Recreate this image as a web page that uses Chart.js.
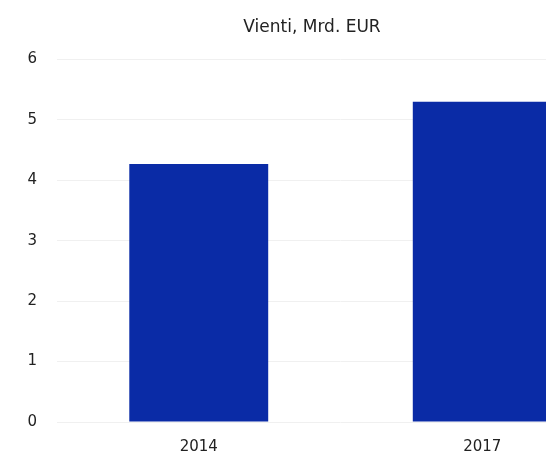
<!DOCTYPE html>
<html>
<head>
<meta charset="utf-8">
<script src="https://cdn.jsdelivr.net/npm/chart.js@4/dist/chart.umd.min.js"></script>
<style>
    html, body { margin: 0; padding: 0; background: #fff; overflow: hidden; }
    #wrap { width: 624px; height: 459px; }
</style>
</head>
<body>
<div id="wrap"><canvas id="exportChart"></canvas></div>
<script>
const years = ["2014", "2017"];
const exports = [4.27, 5.3];
const chartTitle = "Vienti, Mrd. EUR";

const ctx = document.getElementById("exportChart").getContext("2d");

const exportChart = new Chart(ctx, {
    type: "bar",
    data: {
        labels: years,
        datasets: [{
            label: chartTitle,
            data: exports,
            backgroundColor: "#0a2ba6",
            borderWidth: 0,
            categoryPercentage: 1,
            barPercentage: 0.49
        }]
    },
    options: {
        responsive: true,
        maintainAspectRatio: false,
        animation: false,
        layout: { padding: { top: 17, right: 0, bottom: 4, left: 0 } },
        plugins: {
            legend: { display: false },
            tooltip: { enabled: false },
            title: {
                display: true,
                text: chartTitle,
                color: "#222",
                font: { family: "DejaVu Sans", size: 17, weight: "normal" },
                padding: { top: 0, bottom: 22 }
            }
        },
        scales: {
            x: {
                afterFit: (scale) => { scale.height = 33; },
                grid: { display: false, drawTicks: false },
                border: { display: false },
                ticks: {
                    color: "#222",
                    font: { family: "DejaVu Sans", size: 15 },
                    padding: 16
                }
            },
            y: {
                min: 0,
                max: 6,
                afterFit: (scale) => { scale.width = 57; },
                grid: { color: "#f0f0f0", drawTicks: false },
                border: { display: false },
                ticks: {
                    stepSize: 1,
                    color: "#222",
                    align: "center",
                    font: { family: "DejaVu Sans", size: 15 },
                    padding: 20
                }
            }
        }
    }
});
</script>
</body>
</html>
